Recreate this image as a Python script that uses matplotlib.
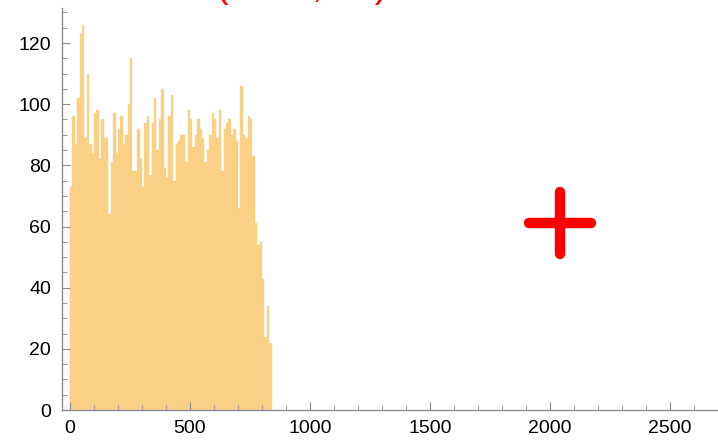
import numpy as np
import matplotlib.pyplot as plt
from matplotlib.markers import MarkerStyle
from matplotlib.ticker import MultipleLocator

# histogram counts, bins of width 10 starting at 0
bin_width = 10
counts = [73, 96, 87, 102, 123, 126, 89, 110, 87, 84,
          97, 98, 82, 95, 89, 89, 64, 81, 97, 84,
          92, 96, 87, 90, 100, 115, 78, 78, 92, 82,
          73, 94, 96, 77, 94, 102, 85, 95, 105, 79,
          76, 96, 103, 75, 87, 88, 90, 90, 81, 98,
          95, 86, 90, 95, 92, 89, 81, 85, 90, 97,
          95, 89, 98, 78, 92, 94, 95, 90, 92, 88,
          66, 106, 90, 89, 96, 95, 83, 61, 54, 55,
          43, 24, 34, 22]
bin_edges = np.arange(len(counts) + 1) * bin_width

# highlighted point
point_x = [2042]
point_y = [61]
point_label = "(2042, 61)"

x_ticks = [0, 500, 1000, 1500, 2000, 2500]
y_ticks = [0, 20, 40, 60, 80, 100, 120]

plt.rcParams["font.family"] = ["Liberation Sans", "DejaVu Sans"]

fig = plt.figure(figsize=(7.18, 4.46), dpi=100)
ax = fig.add_axes([0.0864, 0.0807, 0.9136, 0.901])

ax.bar(bin_edges[:-1], counts, width=bin_width, align="edge",
       color="#fbcd80", edgecolor="#fcd898", linewidth=0.3)

plus = MarkerStyle("+", capstyle="round")
ax.plot(point_x, point_y, linestyle="none", marker=plus,
        markersize=44, markeredgewidth=7.5, color="#ff0000", clip_on=False)

# label sits above the frame, only the bottom of the brackets shows
fig.text(0.42, 1.0 + 3 / 446, point_label, color="#ff0000", fontsize=27,
         ha="center", va="baseline")

ax.set_xlim(-33, 2700)
ax.set_ylim(0, 131.4)
ax.set_xticks(x_ticks)
ax.set_yticks(y_ticks)
ax.xaxis.set_minor_locator(MultipleLocator(100))
ax.yaxis.set_minor_locator(MultipleLocator(5))

for side in ["top", "right"]:
    ax.spines[side].set_visible(False)
for side in ["left", "bottom"]:
    ax.spines[side].set_color("#8c8c8c")
    ax.spines[side].set_linewidth(1.0)

ax.tick_params(which="major", direction="in", length=6, width=0.8,
               color="#8c8c8c", labelsize=14, labelcolor="black")
ax.tick_params(which="minor", direction="in", length=3.5, width=0.6,
               color="#8c8c8c")
ax.tick_params(axis="x", which="major", pad=7)
ax.tick_params(axis="y", which="major", pad=8)

fig.savefig("out.png", dpi=100)
